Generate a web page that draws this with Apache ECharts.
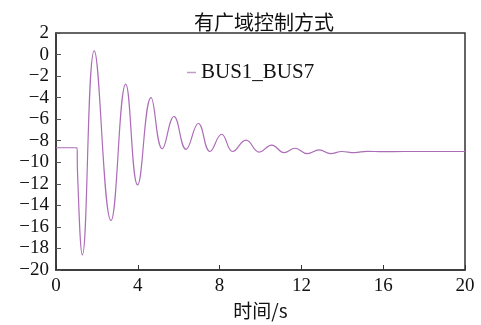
<!DOCTYPE html>
<html><head><meta charset="utf-8">
<script src="https://cdn.jsdelivr.net/npm/echarts@6/dist/echarts.min.js"></script>
<style>html,body{margin:0;padding:0;background:#fff}#c{width:481px;height:325px}</style>
</head><body><div id="c"></div>
<script>
var titleText = '有广域控制方式';
var seriesName = 'BUS1_BUS7';
var xName = '时间/s';
var timeValues = [0, 1.03, 1.05, 1.29, 1.87, 2.69, 3.41, 3.99, 4.65, 5.2, 5.77, 6.36, 6.96, 7.53, 8.1, 8.64, 9.29, 9.94, 10.55, 11.15, 11.69, 12.29, 12.87, 13.43, 13.97, 14.6, 15.2, 16, 17, 20];
var busValues = [-8.65, -8.65, -10.8, -18.6, 0.35, -15.4, -2.75, -12.1, -4.0, -8.75, -5.75, -8.8, -6.4, -9.0, -7.4, -9.0, -7.95, -9.05, -8.4, -9.1, -8.7, -9.2, -8.85, -9.2, -9.0, -9.1, -8.98, -9.02, -9.0, -9.0];
var xTicks = [0, 4, 8, 12, 16, 20];
var yTicks = [-20, -18, -16, -14, -12, -10, -8, -6, -4, -2, 0, 2];

var data = timeValues.map(function (t, i) { return [t, busValues[i]]; });
var chart = echarts.init(document.getElementById('c'), null, {renderer: 'canvas'});
var serif = '"Liberation Serif", "Times New Roman", serif';
chart.setOption({
  animation: false,
  title: {text: titleText, left: 259, top: 7, textAlign: 'center',
    textStyle: {fontFamily: '"Noto Sans CJK SC"', fontSize: 20, fontWeight: 'normal', color: '#111'}},
  legend: {data: [seriesName], left: 182, top: 57, icon: 'rect', itemWidth: 9, itemHeight: 1.5, itemGap: 8,
    textStyle: {fontFamily: serif, fontSize: 21, color: '#111'}},
  grid: {left: 56, right: 16, top: 33, bottom: 55, show: true, borderColor: '#333', borderWidth: 1.5, backgroundColor: 'transparent'},
  xAxis: {type: 'value', min: xTicks[0], max: xTicks[xTicks.length - 1], interval: 4,
    name: xName, nameLocation: 'middle', nameGap: 28,
    nameTextStyle: {fontFamily: '"Noto Sans CJK SC"', fontSize: 19, color: '#111'},
    axisLine: {show: true, onZero: false, lineStyle: {color: '#333', width: 1.5}},
    axisTick: {show: true, inside: true, length: 5, lineStyle: {color: '#333'}},
    splitLine: {show: false},
    axisLabel: {fontFamily: serif, fontSize: 19, color: '#111', margin: 7}},
  yAxis: {type: 'value', min: yTicks[0], max: yTicks[yTicks.length - 1], interval: 2,
    axisLine: {show: true, onZero: false, lineStyle: {color: '#333', width: 1.5}},
    axisTick: {show: true, inside: true, length: 5, lineStyle: {color: '#555'}},
    splitLine: {show: false},
    axisLabel: {fontFamily: serif, fontSize: 19, color: '#111', margin: 7,
      formatter: function (v) { return String(v).replace('-', '\u2212'); }}},
  series: [{name: seriesName, type: 'line', data: data, smooth: 0.45, showSymbol: false,
    lineStyle: {color: '#ad6db8', width: 1.2}, itemStyle: {color: '#c49acb'}}]
});
</script></body></html>
